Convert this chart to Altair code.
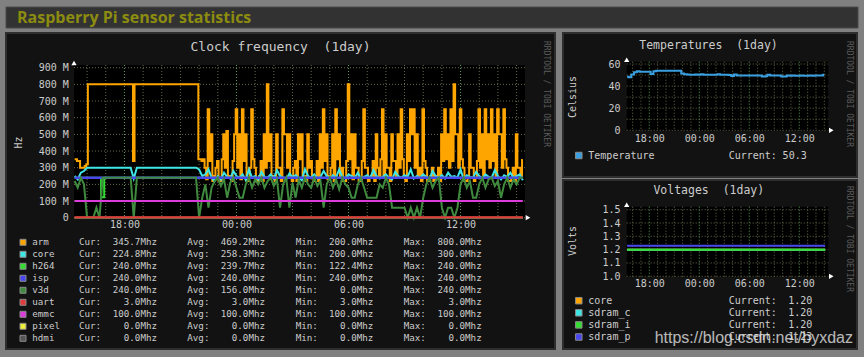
import altair as alt
import pandas as pd

# ---------------- data ----------------
# arm clock (MHz), samples every 5 minutes starting 15:20 (one row = one hour)
arm_start = 15 + 20 / 60
arm_step = 5 / 60
arm = [
    350, 350, 340, 340, 300, 300, 300, 310, 320, 800, 800, 800,
    800, 800, 800, 800, 800, 800, 800, 800, 800, 800, 800, 800,
    800, 800, 800, 800, 800, 800, 800, 800, 800, 800, 800, 800,
    800, 800, 340, 800, 800, 800, 800, 800, 800, 800, 800, 800,
    800, 800, 800, 800, 800, 800, 800, 800, 800, 800, 800, 800,
    800, 800, 800, 800, 800, 800, 800, 800, 800, 800, 800, 800,
    800, 800, 800, 800, 800, 800, 800, 800, 350, 350, 340, 350,
    300, 230, 650, 340, 500, 220, 250, 300, 340, 220, 220, 350,
    500, 300, 520, 240, 250, 220, 340, 500, 650, 300, 500, 230,
    650, 340, 500, 220, 240, 300, 650, 350, 300, 220, 220, 250,
    340, 220, 500, 300, 800, 340, 500, 240, 250, 220, 500, 300,
    300, 220, 650, 500, 500, 300, 500, 240, 220, 300, 340, 220,
    500, 350, 500, 240, 250, 220, 500, 300, 340, 240, 220, 250,
    340, 220, 500, 300, 650, 340, 500, 230, 250, 300, 500, 220,
    650, 350, 500, 240, 300, 220, 220, 340, 800, 350, 500, 230,
    500, 300, 300, 220, 220, 340, 650, 300, 300, 220, 240, 250,
    340, 220, 500, 300, 250, 350, 650, 240, 500, 300, 300, 220,
    500, 340, 340, 240, 500, 300, 650, 350, 250, 220, 500, 340,
    650, 500, 650, 300, 500, 240, 300, 220, 650, 340, 300, 220,
    220, 250, 300, 220, 250, 240, 300, 220, 500, 340, 650, 350,
    500, 300, 650, 340, 800, 500, 500, 300, 650, 350, 300, 220,
    220, 240, 500, 300, 300, 220, 240, 340, 650, 300, 500, 240,
    650, 350, 500, 300, 650, 340, 500, 240, 650, 500, 500, 300,
    650, 350, 300, 220, 220, 240, 300, 220, 500, 300, 300, 240,
    345.7,
]
# core / v3d clocks (MHz), samples every 10 minutes starting 15:20
clock_start = 15 + 20 / 60
clock_step = 10 / 60
core = [
    250, 230, 270, 280, 300, 300, 300, 300, 300, 300,
    300, 300, 300, 300, 300, 300, 300, 300, 300, 235,
    300, 300, 300, 300, 300, 300, 300, 300, 300, 300,
    300, 300, 300, 300, 300, 300, 300, 300, 300, 300,
    290, 250, 260, 290, 240, 220, 250, 230, 270, 245,
    235, 280, 250, 240, 260, 225, 290, 240, 250, 230,
    275, 245, 240, 260, 235, 285, 250, 240, 230, 265,
    245, 255, 240, 225, 290, 250, 240, 260, 235, 245,
    280, 250, 230, 255, 240, 290, 245, 235, 260, 250,
    240, 270, 230, 245, 255, 240, 285, 250, 235, 245,
    260, 240, 230, 275, 250, 240, 255, 245, 290, 235,
    250, 240, 260, 245, 230, 280, 250, 240, 255, 235,
    270, 245, 250, 240, 290, 230, 255, 245, 240, 275,
    250, 235, 260, 245, 240, 285, 250, 230, 255, 245,
    270, 240, 250, 260, 224.8,
]
v3d = [
    220, 180, 240, 200, 0, 0, 0, 60, 0, 240,
    240, 240, 240, 240, 240, 240, 240, 240, 240, 0,
    240, 240, 240, 240, 240, 240, 240, 240, 240, 240,
    240, 240, 240, 240, 240, 240, 240, 240, 240, 240,
    0, 120, 200, 60, 180, 220, 240, 190, 230, 120,
    210, 240, 180, 120, 120, 200, 240, 180, 230, 200,
    240, 180, 220, 240, 190, 230, 60, 200, 240, 60,
    210, 120, 230, 180, 240, 200, 180, 240, 190, 220,
    60, 200, 240, 180, 230, 170, 240, 200, 180, 120,
    120, 200, 240, 180, 120, 120, 120, 120, 200, 180,
    240, 200, 60, 60, 60, 60, 60, 0, 60, 0,
    60, 0, 120, 200, 240, 180, 220, 240, 60, 0,
    60, 60, 0, 60, 200, 240, 180, 220, 120, 120,
    200, 240, 180, 230, 240, 190, 220, 120, 200, 240,
    180, 230, 200, 240, 240,
]
h264_t = [15.333, 16.667, 16.833, 17.0, 39.333]
h264 = [240, 240, 122.4, 240, 240]
flat_t = [15.333, 39.333]
isp = [240, 240]
uart = [3, 3]
emmc = [100, 100]
pixel = [0, 0]
hdmi = [0, 0]

clock_names = ["arm", "core", "h264", "isp", "v3d", "uart", "emmc", "pixel", "hdmi"]
clock_colors = ["#ffa500", "#3ee6e6", "#33dd33", "#4848ee", "#3f8a3f",
                "#e03c3c", "#dd3cdd", "#eeee3c", "#555555"]
clock_cur = [345.7, 224.8, 240.0, 240.0, 240.0, 3.0, 100.0, 0.0, 0.0]
clock_avg = [469.2, 258.3, 239.7, 240.0, 156.0, 3.0, 100.0, 0.0, 0.0]
clock_min = [200.0, 200.0, 122.4, 240.0, 0.0, 3.0, 100.0, 0.0, 0.0]
clock_max = [800.0, 300.0, 240.0, 240.0, 240.0, 3.0, 100.0, 0.0, 0.0]

# Temperature panel (Celsius), samples every 20 minutes starting 15:20
temp_start = 15 + 20 / 60
temp_step = 20 / 60
temperature = [
    48.5, 48.0, 50.5, 52.5, 53.5, 53.0, 53.0, 53.0, 53.0, 51.0,
    53.5, 54.0, 54.0, 54.0, 54.0, 54.0, 54.0, 54.0, 54.0, 54.0,
    51.5, 50.8, 50.5, 50.3, 50.3, 50.5, 50.3, 50.8, 50.2, 50.2,
    50.2, 50.2, 50.3, 50.8, 50.3, 50.2, 50.2, 50.0, 49.2, 50.6,
    49.7, 49.6, 49.6, 49.5, 49.6, 49.5, 49.6, 49.5, 49.6, 48.7,
    49.0, 50.2, 49.6, 49.5, 49.6, 49.5, 48.7, 48.8, 49.5, 49.4,
    49.5, 49.4, 49.3, 49.5, 49.4, 49.4, 49.6, 49.4, 49.5, 49.7,
    49.5, 50.3,
]
temp_name = "Temperature"
temp_color = "#3a9fe0"
temp_current = 50.3

# Voltages panel (Volts)
volt_t = [15.333, 39.1]
volt_names = ["core", "sdram_c", "sdram_i", "sdram_p"]
volt_colors = ["#ffa500", "#3ee6e6", "#33dd33", "#4848ee"]
volt_values = [1.20, 1.20, 1.20, 1.23]

# ticks
clock_y_ticks = [0, 100, 200, 300, 400, 500, 600, 700, 800, 900]
temp_y_ticks = [0, 20, 40, 60]
temp_y_grid = [0, 10, 20, 30, 40, 50, 60]
volt_y_ticks = [1.0, 1.1, 1.2, 1.3, 1.4, 1.5]
time_ticks = [18, 24, 30, 36]
hour_grid = [16, 17, 19, 20, 21, 22, 23, 25, 26, 27, 28, 29, 31, 32, 33, 34, 35, 37, 38, 39]

# ---------------- style / geometry ----------------
MONO = "DejaVu Sans Mono"
TXT = "#cccccc"
GRID = "#6a6a4c"
GRID_MAJOR = "#5fa05f"
ONE = pd.DataFrame({"k": [0]})

CLK = dict(x0=74, x1=525, y0=65, y1=218.5, xd=[15.3, 39.45], yd=[0, 900], yr=[217.7, 67.7])
TMP = dict(x0=626.7, x1=828.3, y0=61.7, y1=131, xd=[15.29, 39.48], yd=[0, 60], yr=[130.3, 64])
VLT = dict(x0=626.7, x1=828.3, y0=206.7, y1=277, xd=[15.29, 39.48], yd=[1.0, 1.5], yr=[276.3, 209.7])
H = 357


def sc(domain, rng):
    return alt.Scale(domain=domain, range=rng, nice=False, zero=False)


def xs(p):
    return sc(p["xd"], [p["x0"], p["x1"]])


def ys(p):
    return sc(p["yd"], p["yr"])


def rect(x1, y1, x2, y2, fill, stroke=None, sw=1):
    kw = dict(fill=fill)
    if stroke:
        kw.update(stroke=stroke, strokeWidth=sw)
    return alt.Chart(ONE).mark_rect(**kw).encode(
        x=alt.value(x1), x2=alt.value(x2), y=alt.value(y1), y2=alt.value(y2))


def label(text, x, y, size, color=TXT, font=MONO, align="left", angle=0, weight="normal", opacity=1):
    return alt.Chart(ONE).mark_text(
        text=text, align=align, baseline="middle", font=font, fontSize=size,
        color=color, angle=angle, fontWeight=weight, opacity=opacity,
    ).encode(x=alt.value(x), y=alt.value(y))


AX = dict(domain=False, ticks=False, grid=False, title=None, labelFont=MONO, zindex=1,
          labelFontSize=10, labelColor=TXT, labelOverlap=False, labelFlush=False)
TIME_EXPR = "(datum.value % 24 < 10 ? '0' : '') + (datum.value % 24) + ':00'"


def grids(p, yvals, yticks, ylabel_expr, ypad, xpad):
    hgrid = alt.Chart(pd.DataFrame({"v": yvals})).mark_rule(
        color=GRID, strokeDash=[1, 2], strokeWidth=1).encode(
        y=alt.Y("v:Q", scale=ys(p), axis=alt.Axis(
            values=yticks, orient="left", offset=-p["x0"], labelPadding=ypad,
            labelExpr=ylabel_expr, **AX)),
        x=alt.value(p["x0"]), x2=alt.value(p["x1"]))
    vminor = alt.Chart(pd.DataFrame({"h": hour_grid})).mark_rule(
        color=GRID, strokeDash=[1, 2], strokeWidth=1).encode(
        x=alt.X("h:Q", scale=xs(p), axis=None),
        y=alt.value(p["y0"]), y2=alt.value(p["y1"]))
    vmajor = alt.Chart(pd.DataFrame({"h": time_ticks})).mark_rule(
        color=GRID_MAJOR, strokeDash=[1, 2], strokeWidth=1).encode(
        x=alt.X("h:Q", scale=xs(p), axis=alt.Axis(
            values=time_ticks, orient="bottom", offset=p["yr"][0] - H,
            labelPadding=xpad, labelExpr=TIME_EXPR, **AX)),
        y=alt.value(p["y0"]), y2=alt.value(p["y1"]))
    return [hgrid, vminor, vmajor]


def line(times, vals, color, p, width=2, interp="linear"):
    df = pd.DataFrame({"t": times, "v": vals})
    return alt.Chart(df).mark_line(color=color, strokeWidth=width, interpolate=interp).encode(
        x=alt.X("t:Q", scale=xs(p), axis=None),
        y=alt.Y("v:Q", scale=ys(p), axis=None))


def arrows(p):
    up = alt.Chart(ONE).mark_point(shape="triangle-up", filled=True, color="white", size=28, opacity=1).encode(
        x=alt.value(p["x0"]), y=alt.value(p["y0"] - 2))
    right = alt.Chart(ONE).mark_point(shape="triangle-right", filled=True, color="white", size=28, opacity=1).encode(
        x=alt.value(p["x1"] + 3), y=alt.value(p["yr"][0]))
    return [up, right]


layers = []
# frame
layers += [
    rect(6, 7, 858, 28, "#323232", "#4a4a4a", 1),
    rect(6, 33, 555, 349, "#121212", "#2e2e2e", 2),
    rect(563, 33, 857, 177, "#121212", "#2e2e2e", 2),
    rect(563, 180, 857, 349, "#121212", "#2e2e2e", 2),
    label("Raspberry Pi sensor statistics", 17, 17.5, 16, color="#8c8c10", font="Open Sans", weight="bold"),
]
# plot areas
for p in (CLK, TMP, VLT):
    layers.append(rect(p["x0"], p["y0"], p["x1"], p["y1"], "#000000"))

# titles / side texts
layers += [
    label("Clock frequency\u00a0\u00a0(1day)", 280.5, 47, 13, align="center"),
    label("Temperatures\u00a0\u00a0(1day)", 708.5, 45.7, 11.5, align="center"),
    label("Voltages\u00a0\u00a0(1day)", 708.8, 190.7, 11.5, align="center"),
    label("Hz", 18.5, 142.5, 10, align="center", angle=270),
    label("Celsius", 572.7, 97, 10, align="center", angle=270),
    label("Volts", 572.7, 241, 10, align="center", angle=270),
    label("RRDTOOL / TOBI OETIKER", 546.3, 94, 8, color="#5c5c5c", align="center", angle=90),
    label("RRDTOOL / TOBI OETIKER", 849, 94, 8, color="#5c5c5c", align="center", angle=90),
    label("RRDTOOL / TOBI OETIKER", 849, 239, 8, color="#5c5c5c", align="center", angle=90),
]

# grids + axes
layers += grids(CLK, clock_y_ticks, clock_y_ticks,
                "datum.value == 0 ? '0' : datum.value + ' M'", 5.7, 2)
layers += grids(TMP, temp_y_grid, temp_y_ticks, "datum.label", 6.7, 3)
layers += grids(VLT, volt_y_ticks, volt_y_ticks, "format(datum.value, '.1f')", 6.7, 2)

# clock lines
arm_t = [arm_start + i * arm_step for i in range(len(arm))]
clock_t = [clock_start + i * clock_step for i in range(len(core))]
layers += [
    line(flat_t, pixel, clock_colors[7], CLK),
    line(flat_t, hdmi, clock_colors[8], CLK),
    line(arm_t, arm, clock_colors[0], CLK, interp="step"),
    line(clock_t, core, clock_colors[1], CLK),
    line(h264_t, h264, clock_colors[2], CLK, interp="step"),
    line(flat_t, isp, clock_colors[3], CLK, 2.6),
    line(clock_t, v3d, clock_colors[4], CLK),
    line(flat_t, uart, clock_colors[5], CLK),
    line(flat_t, emmc, clock_colors[6], CLK),
]
# temperature line
temp_t = [temp_start + i * temp_step for i in range(len(temperature))]
layers.append(line(temp_t, temperature, temp_color, TMP, interp="step"))
# volt lines
for n, c, v in zip(volt_names, volt_colors, volt_values):
    layers.append(line(volt_t, [v, v], c, VLT))

layers += arrows(CLK) + arrows(TMP) + arrows(VLT)

# clock legend
leg = pd.DataFrame({"row": list(range(len(clock_names))), "name": clock_names, "color": clock_colors,
                    "cur": clock_cur, "avg": clock_avg, "mn": clock_min, "mx": clock_max})
rowY = alt.Y("row:Q", scale=sc([0, 8], [242.3, 338.3]), axis=None)
LF = dict(baseline="middle", font=MONO, fontSize=9.2, color=TXT)
layers.append(alt.Chart(leg).mark_square(size=36, filled=True, stroke="#8a8a8a", strokeWidth=1, opacity=1).encode(
    x=alt.value(23), y=rowY, color=alt.Color("color:N", scale=None)))
layers.append(alt.Chart(leg).mark_text(align="left", **LF).encode(x=alt.value(32.3), y=rowY, text="name:N"))
for lab, field, lx, rx in (("Cur:", "cur", 79, 157), ("Avg:", "avg", 187.3, 265),
                           ("Min:", "mn", 295.7, 373.3), ("Max:", "mx", 403.7, 481.7)):
    layers.append(alt.Chart(leg).mark_text(align="left", text=lab, **LF).encode(x=alt.value(lx), y=rowY))
    layers.append(alt.Chart(leg).transform_calculate(
        s=f"format(datum.{field}, '.1f') + 'Mhz'").mark_text(align="right", **LF).encode(
        x=alt.value(rx), y=rowY, text="s:N"))

# temperature legend
RF = dict(baseline="middle", font=MONO, fontSize=10, color=TXT)
tleg = pd.DataFrame({"name": [temp_name], "color": [temp_color], "cur": [temp_current]})
layers.append(alt.Chart(tleg).mark_square(size=42, filled=True, stroke="#8a8a8a", strokeWidth=1, opacity=1).encode(
    x=alt.value(578.8), y=alt.value(155.5), color=alt.Color("color:N", scale=None)))
layers.append(alt.Chart(tleg).mark_text(align="left", **RF).encode(x=alt.value(588.3), y=alt.value(155.7), text="name:N"))
layers.append(alt.Chart(tleg).mark_text(align="left", text="Current:", **RF).encode(x=alt.value(728.7), y=alt.value(155.7)))
layers.append(alt.Chart(tleg).transform_calculate(s="format(datum.cur, '.1f')").mark_text(align="right", **RF).encode(
    x=alt.value(806.7), y=alt.value(155.7), text="s:N"))

# volt legend
vleg = pd.DataFrame({"row": list(range(4)), "name": volt_names, "color": volt_colors, "cur": volt_values})
vY = alt.Y("row:Q", scale=sc([0, 3], [300.7, 337]), axis=None)
layers.append(alt.Chart(vleg).mark_square(size=42, filled=True, stroke="#8a8a8a", strokeWidth=1, opacity=1).encode(
    x=alt.value(578.8), y=vY, color=alt.Color("color:N", scale=None)))
layers.append(alt.Chart(vleg).mark_text(align="left", **RF).encode(x=alt.value(588.3), y=vY, text="name:N"))
layers.append(alt.Chart(vleg).mark_text(align="left", text="Current:", **RF).encode(x=alt.value(728.7), y=vY))
layers.append(alt.Chart(vleg).transform_calculate(s="format(datum.cur, '.2f')").mark_text(align="right", **RF).encode(
    x=alt.value(812.3), y=vY, text="s:N"))

# watermark
layers.append(label("https://blog.csdn.net/byxdaz", 853, 337.5, 16, color="#e6e6e6",
                    font="Liberation Sans", align="right", opacity=0.78))

chart = alt.layer(*layers).resolve_scale(
    x="independent", y="independent"
).resolve_axis(
    x="independent", y="independent"
).properties(
    width=864, height=357, background="#808080", padding=0,
    autosize=alt.AutoSizeParams(type="none"),
).configure_view(strokeWidth=0)

chart.save("out.html", embed_options={"renderer": "svg", "actions": False})
